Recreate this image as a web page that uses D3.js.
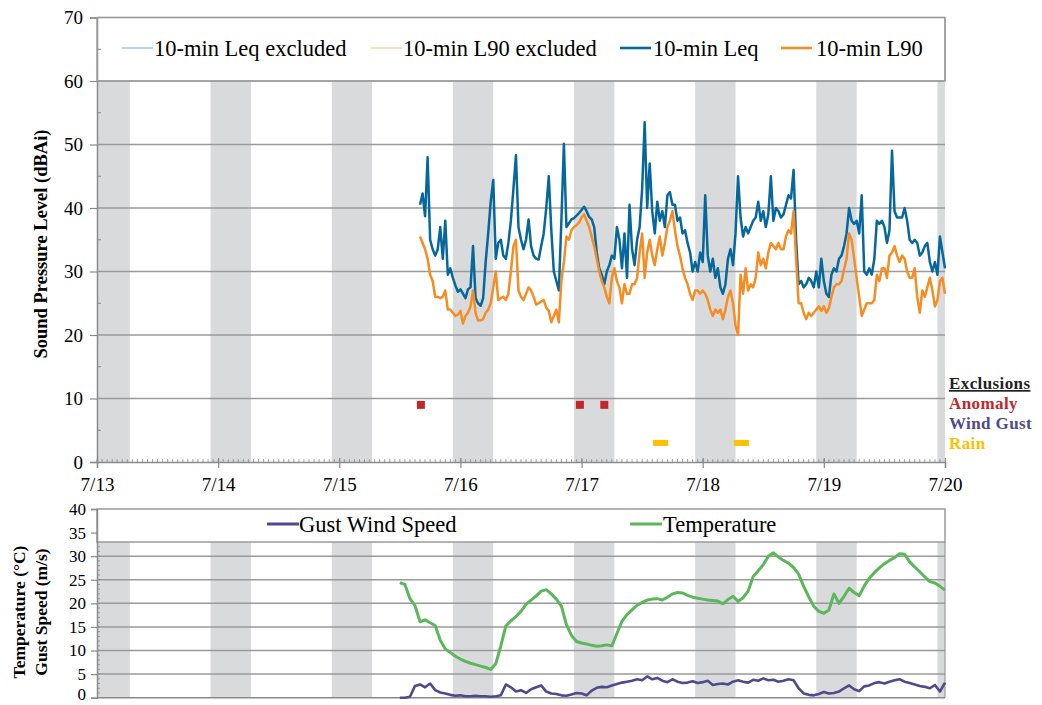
<!DOCTYPE html>
<html>
<head>
<meta charset="utf-8">
<script src="https://cdn.jsdelivr.net/npm/d3@7"></script>
<style>
  body { margin: 0; background: #fff; }
  text { font-family: "Liberation Serif", "Times New Roman", serif; fill: #000; }
</style>
</head>
<body>
<svg id="chart" width="1042" height="705"></svg>
<script>
// ---------- data ----------
// Sound levels (dBAi), one value every 30 minutes starting 7/15 16:00
const soundStart = new Date(2019, 6, 15, 16, 0);
const soundStepMinutes = 30;
const leq = [
  40.5, 42.3, 38.7, 48, 35, 33.5, 32.5, 33.5, 37, 32,
  38, 29.5, 30.5, 29, 27.8, 26.8, 27.2, 26.5, 25.8, 27.2,
  27.5, 34, 25.8, 25, 24.6, 25.8, 31.5, 36, 41, 44.4,
  32, 34.5, 35, 32.5, 32, 34.5, 38, 43, 48.3, 37,
  35, 33.5, 35, 38.2, 34, 32.5, 32, 31.9, 34, 36,
  40, 45, 36.6, 30, 28.5, 27, 38, 50.1, 37, 37.6,
  38.2, 38.4, 38.8, 39.2, 39.7, 40.2, 39.5, 38.6, 38.2, 37,
  33, 30.5, 29.5, 28, 30, 31, 32.5, 32, 37, 35,
  30.5, 36, 29, 40.5, 33.5, 31, 35, 37, 43, 53.5,
  40, 47, 39.5, 36, 41, 38, 39.5, 37, 42, 42.5,
  40.5, 40.5, 38, 38.5, 36, 36.5, 34.5, 33, 30, 31.5,
  30, 33, 31.5, 42, 32.5, 30, 32, 29, 30.5, 27.5,
  26.5, 28, 32, 33.5, 31, 36, 45, 38.5, 35.5, 37,
  36, 37, 38, 38.5, 41, 38, 39.5, 37, 39,
  45, 38, 40, 39.5, 38.5, 39, 40.5, 42, 41.5, 46,
  35, 28, 28.5, 27.5, 28, 29, 28.5, 27.5, 30, 27.5,
  32, 28.5, 26.5, 26, 29.5, 30.5, 30, 32, 32.5, 34,
  36, 40, 38, 37.5, 38, 36, 42, 30, 29.5, 30.5,
  29.5, 32, 38, 37.5, 38, 37, 34.5, 36.5, 49, 39.5,
  38.5, 38.5, 38.5, 40, 38, 35, 34.5, 35, 34.5, 32.5,
  33, 34, 34.5, 31.5, 30, 31.5, 29.5, 35.5, 33, 30.5
];
const l90 = [
  35.5, 34.5, 33.5, 32, 29.5, 28.5, 26, 26, 25.8, 26,
  27, 24, 24, 23.5, 23, 23.2, 23.8, 21.8, 23, 23.5,
  24.5, 27, 23.5, 22.3, 22.3, 22.5, 23.5, 24, 25, 27.5,
  30, 25.5, 25.8, 26, 25.5, 26.5, 30, 34, 35, 27,
  26, 25.5, 26.5, 27.5, 27, 26, 24.8, 25, 25.3, 25.5,
  24.3, 23.8, 22, 23, 24, 22, 28.5, 31.5, 35.5, 35,
  36.5, 37, 37.3, 37.7, 38.5, 39, 38, 37, 35.5, 34,
  32, 30, 28.5, 27.5, 26, 25, 29, 30.5, 28.5, 27.5,
  25, 28, 26.5, 26.5, 28, 28, 29, 33, 36, 29,
  33, 35, 32.5, 31, 33.5, 35.5, 32.5, 34.5, 37, 38,
  39.5, 36.5, 34, 32.5, 30.5, 29, 28, 26.5, 25.5, 27,
  27, 26.5, 27, 26.5, 25.5, 24, 23, 24, 23.5, 24,
  22.5, 24, 26, 27, 25, 21.5, 20, 29.5, 26.5, 30.5,
  27, 28, 27.5, 29, 33, 31, 32, 30.5, 33,
  34.5, 34, 33.5, 34.5, 33.5, 33.5, 35.5, 36.5, 36, 39.5,
  32, 25, 25, 23.5, 22.5, 23.5, 23, 23.5, 24, 24.5,
  23.8, 24.5, 23.5, 24.2, 26, 27.5, 28, 28, 28.5, 30.3,
  32, 36, 35, 32, 29, 26, 23, 24, 25, 25,
  25, 25.5, 29.5, 28.5, 30.5, 30.5, 29, 32.5, 33, 34,
  32.5, 31.5, 32.5, 32, 30, 29, 29, 30.5, 26, 23.5,
  27, 26, 27.5, 29, 27, 24.5, 25.5, 28.5, 29, 26.5
];

// Weather, hourly starting 7/15 12:00
const weatherStart = new Date(2019, 6, 15, 12, 0);
const weatherStepMinutes = 60;
const temperature = [
  24.4, 24, 21, 19.5, 16.1, 16.5, 15.9, 15.3, 12.2, 10.3,
  9.6, 8.8, 8.2, 7.7, 7.3, 7, 6.7, 6.4, 6, 7.2,
  11, 15.2, 16.3, 17.2, 18.3, 19.8, 20.7, 21.6, 22.6, 22.9,
  22, 20.9, 19.4, 15.5, 13.2, 11.9, 11.6, 11.4, 11.1, 10.9,
  11, 11.2, 11, 13.6, 16.2, 17.6, 18.6, 19.6, 20.2, 20.7,
  20.9, 21, 20.7, 21.3, 22, 22.3, 22.2, 21.7, 21.3, 21.1,
  20.9, 20.7, 20.6, 20.5, 19.9, 20.8, 21.5, 20.4, 21.2, 22.6,
  25.7, 26.9, 28.2, 30, 30.7, 29.8, 29.1, 28.5, 27.6, 26.2,
  23.6, 21.4, 19.4, 18.3, 17.9, 18.6, 22, 20, 21.5, 23.2,
  22.3, 21.6, 23.7, 25.3, 26.5, 27.5, 28.4, 29.1, 29.7, 30.5,
  30.4, 28.8, 27.7, 26.7, 25.6, 24.6, 24.3, 23.6, 22.8
];
const gustSpeed = [
  0, 0, 0.2, 2.5, 2.8, 2.2, 3, 1.6, 1.1, 0.9,
  0.6, 0.4, 0.5, 0.3, 0.3, 0.4, 0.3, 0.3, 0.2, 0.3,
  0.5, 2.8, 2.2, 1.3, 1.6, 1, 1.8, 2.2, 2.6, 1.3,
  0.9, 0.8, 0.5, 0.4, 0.7, 1, 0.9, 0.5, 1.5, 2.1,
  2.3, 2.2, 2.6, 2.9, 3.2, 3.4, 3.6, 3.9, 3.7, 4.5,
  3.9, 4.2, 3.6, 3.3, 3.9, 3.4, 3.1, 3.2, 3.5, 3.1,
  3.3, 3.6, 2.7, 2.9, 3, 2.8, 3.4, 3.7, 3.4, 3.2,
  3.8, 3.6, 4.1, 3.7, 3.8, 3.4, 3.6, 3.9, 3.7, 2,
  0.9, 0.6, 0.5, 0.8, 1.2, 0.9, 1, 1.3, 2, 2.6,
  1.8, 1.4, 2.4, 2.6, 3.1, 3.3, 3, 3.4, 3.7, 3.9,
  3.4, 3.1, 2.8, 2.5, 2.3, 2, 2.7, 1.3, 3.2
];

// Exclusion events
const anomalyTimes = [
  new Date(2019, 6, 15, 16, 10),
  new Date(2019, 6, 16, 23, 40),
  new Date(2019, 6, 17, 4, 30)
];
const rainPeriods = [
  [new Date(2019, 6, 17, 14, 10), new Date(2019, 6, 17, 17, 10)],
  [new Date(2019, 6, 18, 6, 10), new Date(2019, 6, 18, 9, 10)]
];
const anomalyLevel = 9;
const rainLevel = 3;

// Night-time shading (22:30 to 06:30)
const nightStartHour = 22.5;
const nightEndHour = 6.5;

const dayLabels = ["7/13", "7/14", "7/15", "7/16", "7/17", "7/18", "7/19", "7/20"];
const soundTicks = [0, 10, 20, 30, 40, 50, 60, 70];
const weatherTicks = [0, 5, 10, 15, 20, 25, 30, 35, 40];

const seriesNames = ["10-min Leq excluded", "10-min L90 excluded", "10-min Leq", "10-min L90"];
const weatherNames = ["Gust Wind Speed", "Temperature"];
const exclusionNames = ["Exclusions", "Anomaly", "Wind Gust", "Rain"];

// ---------- helpers ----------
const addMinutes = (d, m) => new Date(d.getTime() + m * 60000);
const soundData = leq.map((v, i) => ({ t: addMinutes(soundStart, i * soundStepMinutes), leq: v, l90: l90[i] }));
const weatherData = temperature.map((v, i) => ({ t: addMinutes(weatherStart, i * weatherStepMinutes), temp: v, gust: gustSpeed[i] }));

const colors = {
  leq: "#05679b", l90: "#f58d22", leqEx: "#7fbde6", l90Ex: "#fbc48f",
  gust: "#4f4a8c", temp: "#5cb75a", band: "#d9dadc", grid: "#9a9a9a", axis: "#8a8a8a",
  anomaly: "#c1272d", rain: "#ffc000"
};

const svg = d3.select("#chart");

const tMin = new Date(2019, 6, 13), tMax = new Date(2019, 6, 20);
const x = d3.scaleTime().domain([tMin, tMax]).range([97, 945]);

// night bands
const nights = [];
for (let d = new Date(2019, 6, 12); d < tMax; d = addMinutes(d, 1440)) {
  const a = addMinutes(d, nightStartHour * 60), b = addMinutes(d, (24 + nightEndHour) * 60);
  const s = a < tMin ? tMin : a, e = b > tMax ? tMax : b;
  if (e > s) nights.push([s, e]);
}

// ---------- top panel: sound pressure ----------
const yS = d3.scaleLinear().domain([0, 70]).range([462, 17.5]);
const soundPanel = svg.append("g");

soundPanel.selectAll("rect.night").data(nights).join("rect")
  .attr("x", d => x(d[0])).attr("width", d => x(d[1]) - x(d[0]))
  .attr("y", yS(60)).attr("height", yS(0) - yS(60))
  .attr("fill", colors.band);

soundPanel.selectAll("line.grid").data(soundTicks.filter(v => v > 0)).join("line")
  .attr("x1", x(tMin)).attr("x2", x(tMax))
  .attr("y1", d => yS(d)).attr("y2", d => yS(d))
  .attr("stroke", colors.grid).attr("stroke-width", 1.5);
soundPanel.append("line").attr("x1", x(tMax)).attr("x2", x(tMax)).attr("y1", yS(70)).attr("y2", yS(60))
  .attr("stroke", colors.grid).attr("stroke-width", 1.5);

// left axis
const yAxis = d3.axisLeft(yS).tickValues(soundTicks).tickSize(7).tickPadding(7).tickFormat(d3.format("d"));
const gy = soundPanel.append("g").attr("transform", `translate(${x(tMin)},0)`).call(yAxis);
gy.select(".domain").attr("stroke", colors.axis).attr("stroke-width", 1.5);
gy.selectAll(".tick line").attr("stroke", colors.axis).attr("stroke-width", 1.2);
gy.selectAll(".tick text").style("font-size", "19px").attr("fill", "#222");
soundPanel.selectAll("line.yminor").data(d3.range(5, 70, 10)).join("line")
  .attr("x1", x(tMin)).attr("x2", x(tMin) + 4)
  .attr("y1", d => yS(d)).attr("y2", d => yS(d))
  .attr("stroke", colors.axis).attr("stroke-width", 1);

// bottom axis with hourly minor ticks
const hours = d3.timeHour.range(tMin, tMax);
soundPanel.selectAll("line.xminor").data(hours).join("line")
  .attr("x1", d => x(d)).attr("x2", d => x(d))
  .attr("y1", yS(0)).attr("y2", yS(0) - 3)
  .attr("stroke", colors.axis).attr("stroke-width", 0.8);
const xAxis = d3.axisBottom(x).ticks(d3.timeDay.every(1)).tickSize(6).tickPadding(10)
  .tickFormat((d, i) => dayLabels[i]);
const gx = soundPanel.append("g").attr("transform", `translate(0,${yS(0)})`).call(xAxis);
gx.select(".domain").attr("stroke", colors.axis).attr("stroke-width", 1.5);
gx.selectAll(".tick line").attr("stroke", colors.axis).attr("stroke-width", 1.2).attr("y1", -4);
gx.selectAll(".tick text").style("font-size", "19px").attr("fill", "#222");

// sound lines: excluded intervals (thin, light) beneath the full series
const lineOf = key => d3.line().x(d => x(d.t)).y(d => yS(d[key]));
const excludedSegments = rainPeriods.map(([a, b]) => soundData.filter(d => d.t >= a && d.t <= b));
soundPanel.selectAll("path.l90ex").data(excludedSegments).join("path")
  .attr("d", lineOf("l90")).attr("fill", "none").attr("stroke", colors.l90Ex).attr("stroke-width", 1.2);
soundPanel.selectAll("path.leqex").data(excludedSegments).join("path")
  .attr("d", lineOf("leq")).attr("fill", "none").attr("stroke", colors.leqEx).attr("stroke-width", 1.2);
soundPanel.append("path").datum(soundData).attr("d", lineOf("leq"))
  .attr("fill", "none").attr("stroke", colors.leq).attr("stroke-width", 2.5).attr("stroke-linejoin", "round");
soundPanel.append("path").datum(soundData).attr("d", lineOf("l90"))
  .attr("fill", "none").attr("stroke", colors.l90).attr("stroke-width", 2.5).attr("stroke-linejoin", "round");

// exclusion markers
soundPanel.selectAll("rect.anomaly").data(anomalyTimes).join("rect")
  .attr("x", d => x(d) - 4).attr("y", yS(anomalyLevel) - 4).attr("width", 8).attr("height", 8)
  .attr("fill", colors.anomaly);
soundPanel.selectAll("rect.rain").data(rainPeriods).join("rect")
  .attr("x", d => x(d[0])).attr("width", d => x(d[1]) - x(d[0]))
  .attr("y", yS(rainLevel) - 3).attr("height", 6)
  .attr("fill", colors.rain);

// legend box
soundPanel.append("rect").attr("x", x(tMin)).attr("y", yS(70)).attr("width", x(tMax) - x(tMin)).attr("height", yS(60) - yS(70))
  .attr("fill", "none").attr("stroke", colors.grid).attr("stroke-width", 1.2);
const legendItems = [
  { name: seriesNames[0], color: colors.leqEx, w: 1.2, lx: 122, tx: 154 },
  { name: seriesNames[1], color: colors.l90Ex, w: 1.2, lx: 371, tx: 403 },
  { name: seriesNames[2], color: colors.leq, w: 2.6, lx: 620, tx: 653 },
  { name: seriesNames[3], color: colors.l90, w: 2.6, lx: 781, tx: 816 }
];
const lg = soundPanel.selectAll("g.leg").data(legendItems).join("g");
lg.append("line").attr("x1", d => d.lx).attr("x2", d => d.lx + 31).attr("y1", 48).attr("y2", 48)
  .attr("stroke", d => d.color).attr("stroke-width", d => d.w);
lg.append("text").attr("x", d => d.tx).attr("y", 55.5).style("font-size", "22.5px").text(d => d.name);

// axis title
svg.append("text").attr("transform", "translate(47,244) rotate(-90)").attr("text-anchor", "middle")
  .style("font-size", "18.5px").style("font-weight", "bold").text("Sound Pressure Level (dBAi)");

// exclusions legend
const exColors = ["#222", colors.anomaly, colors.gust, colors.rain];
svg.selectAll("text.ex").data(exclusionNames).join("text")
  .attr("x", 949).attr("y", (d, i) => 389 + i * 20)
  .style("font-size", "17px").style("font-weight", "bold").style("letter-spacing", "0.4px")
  .style("fill", (d, i) => exColors[i])
  .attr("text-decoration", (d, i) => i === 0 ? "underline" : null)
  .text(d => d);

// ---------- bottom panel: weather ----------
const yW = d3.scaleLinear().domain([0, 40]).range([697.7, 509]);
const weatherPanel = svg.append("g");

weatherPanel.selectAll("rect.night").data(nights).join("rect")
  .attr("x", d => x(d[0])).attr("width", d => x(d[1]) - x(d[0]))
  .attr("y", yW(33)).attr("height", yW(0) - yW(33))
  .attr("fill", colors.band);

weatherPanel.selectAll("line.grid").data([5, 10, 15, 20, 25, 30]).join("line")
  .attr("x1", x(tMin)).attr("x2", x(tMax))
  .attr("y1", d => yW(d)).attr("y2", d => yW(d))
  .attr("stroke", colors.grid).attr("stroke-width", 1.5);
weatherPanel.append("rect").attr("x", x(tMin)).attr("y", yW(40)).attr("width", x(tMax) - x(tMin)).attr("height", yW(33) - yW(40))
  .attr("fill", "none").attr("stroke", colors.grid).attr("stroke-width", 1.5);
weatherPanel.append("line").attr("x1", x(tMax)).attr("x2", x(tMax)).attr("y1", yW(33)).attr("y2", yW(0))
  .attr("stroke", colors.grid).attr("stroke-width", 1.2);
weatherPanel.append("line").attr("x1", x(tMin)).attr("x2", x(tMax)).attr("y1", yW(0)).attr("y2", yW(0))
  .attr("stroke", colors.axis).attr("stroke-width", 1.5);

const wAxis = d3.axisLeft(yW).tickValues(weatherTicks).tickSize(6).tickPadding(5).tickFormat(d3.format("d"));
const gw = weatherPanel.append("g").attr("transform", `translate(${x(tMin)},0)`).call(wAxis);
gw.select(".domain").attr("stroke", colors.axis).attr("stroke-width", 1.5);
gw.selectAll(".tick line").attr("stroke", colors.axis).attr("stroke-width", 1.2);
gw.selectAll(".tick text").style("font-size", "17px").attr("fill", "#222")
  .attr("dy", d => d === 0 ? "0.12em" : "0.32em");
weatherPanel.selectAll("line.wminor").data(d3.range(1, 33)).join("line")
  .attr("x1", x(tMin)).attr("x2", x(tMin) + 3)
  .attr("y1", d => yW(d)).attr("y2", d => yW(d))
  .attr("stroke", colors.axis).attr("stroke-width", 0.8);

const wLine = key => d3.line().x(d => x(d.t)).y(d => yW(d[key]));
weatherPanel.append("path").datum(weatherData).attr("d", wLine("gust"))
  .attr("fill", "none").attr("stroke", colors.gust).attr("stroke-width", 2.6).attr("stroke-linejoin", "round");
weatherPanel.append("path").datum(weatherData).attr("d", wLine("temp"))
  .attr("fill", "none").attr("stroke", colors.temp).attr("stroke-width", 3).attr("stroke-linejoin", "round");

const wLegend = [
  { name: weatherNames[0], color: colors.gust, lx: 267, tx: 299 },
  { name: weatherNames[1], color: colors.temp, lx: 630, tx: 663 }
];
const wl = weatherPanel.selectAll("g.wleg").data(wLegend).join("g");
wl.append("line").attr("x1", d => d.lx).attr("x2", d => d.lx + 32).attr("y1", 524).attr("y2", 524)
  .attr("stroke", d => d.color).attr("stroke-width", 3);
wl.append("text").attr("x", d => d.tx).attr("y", 531.5).style("font-size", "22.5px").text(d => d.name);

svg.append("text").attr("transform", "translate(25,612) rotate(-90)").attr("text-anchor", "middle")
  .style("font-size", "17.5px").style("font-weight", "bold").text("Temperature (°C)");
svg.append("text").attr("transform", "translate(47,612) rotate(-90)").attr("text-anchor", "middle")
  .style("font-size", "17.5px").style("font-weight", "bold").text("Gust Speed (m/s)");
</script>
</body>
</html>
